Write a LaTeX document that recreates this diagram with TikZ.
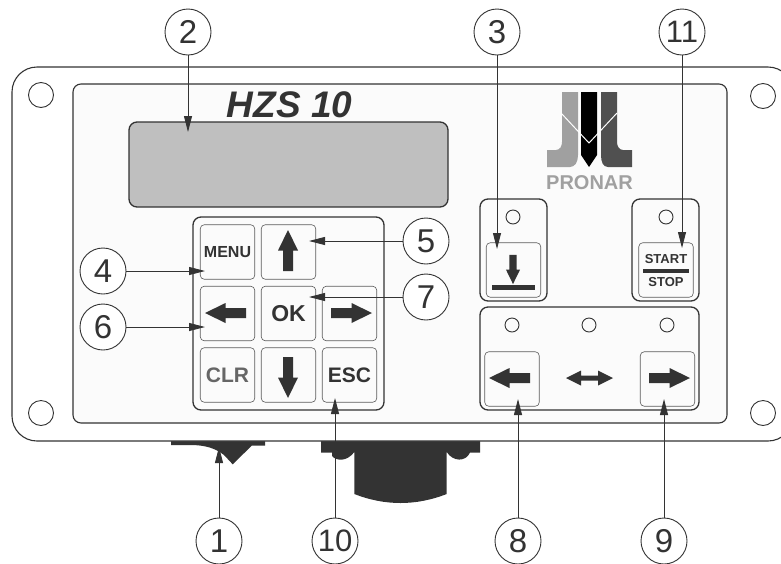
\documentclass[tikz,border=0pt]{standalone}
\usepackage{fontspec}
\setmainfont{Liberation Sans}
\usetikzlibrary{arrows.meta, calc, positioning}
\definecolor{edgegray}{HTML}{333333}
\definecolor{screengray}{HTML}{BFBFBF}
\definecolor{panelwhite}{HTML}{FBFBFB}
\definecolor{logolight}{HTML}{A0A0A0}
\definecolor{logodark}{HTML}{505050}
\tikzset{
  plateline/.style={draw=edgegray, line width=1.1pt},
  groupbox/.style={draw=edgegray, line width=1.3pt, rounded corners=8pt},
  keybox/.style={draw=edgegray!80, line width=0.6pt, rounded corners=4pt, minimum width=54.5pt, minimum height=54.5pt, inner sep=0pt, text=edgegray, font=\bfseries\fontsize{21}{21}\selectfont},
  ledring/.style={circle, draw=edgegray, fill=panelwhite, line width=0.9pt, minimum size=14pt, inner sep=0pt},
  holering/.style={circle, draw=edgegray, fill=white, line width=0.9pt, minimum size=25pt, inner sep=0pt},
  callout/.style={circle, draw=edgegray, fill=white, line width=0.9pt, minimum size=46pt, inner sep=0pt, text=edgegray, font=\fontsize{33}{33}\selectfont},
  leader/.style={draw=edgegray, line width=0.9pt, -{Triangle[length=16pt,width=8pt]}},
  bigarrow/.pic={
    \fill[edgegray] (-20.5,-5) -- (0,-5) -- (0,-10) -- (20.5,0) -- (0,10) -- (0,5) -- (-20.5,5) -- cycle;
  }
}
\begin{document}
\begin{tikzpicture}[x=1pt, y=-1pt]
\useasboundingbox (0,0) rectangle (781,563);

% --- Connectors under the housing ---
\fill[edgegray] (171,441) -- (171,445) -- (190,445) .. controls (205,445) and (215,448) .. (224,455)
  -- (232.7,464.3) -- (251.7,445.7) -- (265,445.7) -- (265,441) -- cycle;
\fill[edgegray] (321,441) -- (321,452.5) -- (332,452.5) -- (332,456)
  .. controls (336,461) and (347,462) .. (354.3,452)
  -- (354.3,494) .. controls (385,506) and (416,506) .. (446.7,494) -- (446.7,452)
  .. controls (453,462) and (466,462) .. (470,452.5) -- (480,452.5) -- (480,441) -- cycle;

% --- Housing and front panel ---
\draw[plateline, fill=white, rounded corners=25pt] (12,67) rectangle (793,441);
\draw[plateline, fill=panelwhite, rounded corners=8pt] (73,84) rectangle (727,423);
\foreach \hx/\hy/\hname in {41/95/holeA, 763/96/holeB, 41/413/holeC, 763/413/holeD}{
  \node[holering] (\hname) at (\hx,\hy) {};
}

% --- Display and title ---
\draw[groupbox, fill=screengray] (129,122) rectangle (448,207);
\node[text=edgegray, font=\bfseries\itshape\fontsize{37}{37}\selectfont] (title) at (289.5,105) {HZS 10};

% --- Logo ---
\fill[logolight] (562,92) -- (578,92) -- (578,155) .. controls (578,162) and (575,167) .. (570,167) -- (547,167) -- (547,150) -- (556,150) .. controls (560,150) and (562,146) .. (562,142) -- cycle;
\fill[black] (581,92) -- (597,92) -- (597,155) -- (589,167) -- (581,155) -- cycle;
\fill[logodark] (601,92) -- (617,92) -- (617,142) .. controls (617,146) and (619,150) .. (623,150) -- (632,150) -- (632,167) -- (608,167) .. controls (603,167) and (601,162) .. (601,155) -- cycle;
\draw[white, line width=1pt] (561,113) -- (589,143) -- (617,113);
\node[text=logolight, font=\bfseries\fontsize{20}{20}\selectfont] (brand) at (589.5,183) {PRONAR};

% --- Key pad ---
\draw[groupbox] (193,217) rectangle (384,410);
\node[keybox, font=\bfseries\fontsize{16}{16}\selectfont] (menu) at (227.5,252) {MENU};
\node[keybox] (up) at (288.5,252) {};
\node[keybox] (left) at (227.5,313.5) {};
\node[keybox, font=\bfseries\fontsize{23}{23}\selectfont] (ok) at (288.5,313.5) {OK};
\node[keybox] (right) at (349.5,313.5) {};
\node[keybox, text=edgegray!75] (clr) at (227.5,375) {CLR};
\node[keybox] (down) at (288.5,375) {};
\node[keybox] (esc) at (349.5,375) {ESC};
\pic[rotate=90] at (288,250.5) {bigarrow};
\pic[rotate=180] at (225.5,313) {bigarrow};
\pic at (351.5,313) {bigarrow};
\pic[rotate=-90] at (288,377.5) {bigarrow};

% --- Right hand groups ---
\draw[groupbox] (480,199) rectangle (547,301);
\draw[groupbox] (632,199) rectangle (699,301);
\draw[groupbox] (480,307) rectangle (699,410);
\foreach \lx/\ly/\lname in {513/217/ledA, 666/217/ledB, 512/325/ledC, 589/325/ledD, 667/325/ledE}{
  \node[ledring] (\lname) at (\lx,\ly) {};
}
\node[keybox] (lower) at (513.5,270) {};
\node[keybox] (start) at (666,270) {};
\node[keybox] (shiftl) at (512,379) {};
\node[keybox] (shiftr) at (667.5,379) {};
\pic[rotate=-90, scale=0.71] at (513,269.5) {bigarrow};
\fill[edgegray] (492,285) rectangle (535,290);
\node[text=edgegray, font=\bfseries\fontsize{13}{13}\selectfont] (starttxt) at (666,259) {START};
\fill[edgegray] (643,269) rectangle (689,272.5);
\node[text=edgegray, font=\bfseries\fontsize{13}{13}\selectfont] (stoptxt) at (666,282) {STOP};
\pic[rotate=180] at (509.5,378) {bigarrow};
\pic at (669.5,378) {bigarrow};
\fill[edgegray] (566,378) -- (581,370.5) -- (581,375.5) -- (598,375.5) -- (598,370.5) -- (613,378) -- (598,385.5) -- (598,380.5) -- (581,380.5) -- (581,385.5) -- cycle;

% --- Callouts ---
\node[callout] (n1) at (219,541) {1};
\node[callout] (n2) at (188,32) {2};
\node[callout] (n3) at (497,32) {3};
\node[callout] (n4) at (103,271) {4};
\node[callout] (n5) at (426,241) {5};
\node[callout] (n6) at (103,327) {6};
\node[callout] (n7) at (426,297) {7};
\node[callout] (n8) at (518,541) {8};
\node[callout] (n9) at (664,541) {9};
\node[callout, font=\fontsize{31}{31}\selectfont] (n10) at (335,541) {10};
\node[callout, font=\fontsize{31}{31}\selectfont] (n11) at (682,32) {11};

% --- Leader ends ---
\coordinate (t1) at (219,447);
\coordinate (t2) at (188,132);
\coordinate (t3) at (497,249);
\coordinate (t4) at (205,271);
\coordinate (t5) at (309,241);
\coordinate (t6) at (205,327);
\coordinate (t7) at (309,297);
\coordinate (t8) at (518,399);
\coordinate (t9) at (664,399);
\coordinate (t10) at (335,398);
\coordinate (t11) at (682,248);
\foreach \i in {1,...,11}{
  \draw[leader] (n\i) -- (t\i);
}

\end{tikzpicture}
\end{document}
